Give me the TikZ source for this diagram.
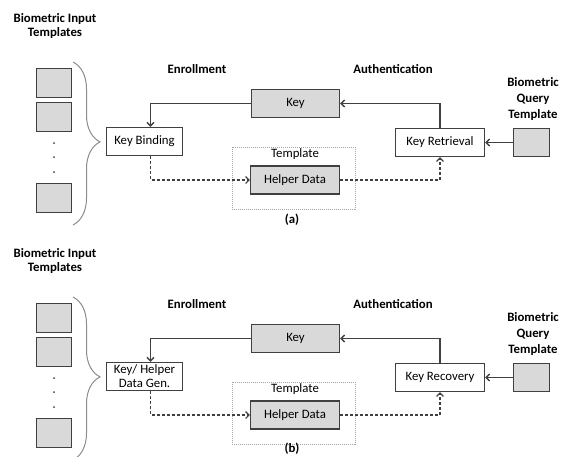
\documentclass[tikz,border=0pt]{standalone}
\usepackage{fontspec}
\setmainfont{Carlito}
\usetikzlibrary{arrows.meta,decorations.pathreplacing}

\definecolor{linegray}{HTML}{404040}
\definecolor{boxgray}{HTML}{D9D9D9}
\definecolor{bracegray}{HTML}{8C8C8C}

\tikzset{
  every node/.style={font=\fontsize{12.8}{14}\selectfont, inner sep=0pt},
  hdr/.style={font=\bfseries\fontsize{12.8}{14.5}\selectfont, align=center},
  box/.style={draw=linegray, line width=1.4pt, fill=white, minimum height=28pt, align=center},
  fillbox/.style={box, fill=boxgray},
  tmplbox/.style={draw=gray!70, line width=0.7pt, dash pattern=on 1pt off 1pt},
  link/.style={draw=linegray, line width=1.3pt, -{Straight Barb[length=3.5pt,width=7pt]}},
  dlink/.style={link, line width=1.1pt, dash pattern=on 3pt off 2pt},
}

\begin{document}
\begin{tikzpicture}[x=1pt,y=-1pt]
  \useasboundingbox (0,0) rectangle (561,456);
  \foreach \dy/\p/\bindtext/\rettext/\capy in {0/a/{Key Binding}/{Key Retrieval}/220,235/b/{Key/ Helper\\Data Gen.}/{Key Recovery}/214}{
    % Plantillas de entrada
    \node[hdr] (inp\p) at (55,26+\dy) {Biometric Input\\Templates};
    \node[fillbox, minimum width=35pt, minimum height=29pt] (ta\p) at (54,83+\dy) {};
    \node[fillbox, minimum width=35pt, minimum height=29pt] (tb\p) at (54,117+\dy) {};
    \node[fillbox, minimum width=35pt, minimum height=29pt] (tc\p) at (54,198+\dy) {};
    \foreach \yy in {143,157,172}
      \fill[linegray] (54,\yy+\dy) circle (1pt);
    \draw[bracegray, line width=1pt, decorate, decoration={brace, amplitude=27pt, aspect=0.49}]
      (73,62+\dy) -- (73,225+\dy);

    % Titulos
    \node[hdr] (enr\p) at (197,69+\dy) {Enrollment};
    \node[hdr] (aut\p) at (393,69+\dy) {Authentication};
    \node[hdr, font=\bfseries\fontsize{12.8}{16}\selectfont] (ql\p) at (533,99+\dy) {Biometric\\Query\\Template};

    % Cajas
    \node[fillbox, minimum width=88pt] (key\p) at (295.5,103.5+\dy) {Key};
    \node[box, minimum width=76pt] (bind\p) at (144.5,141.5+\dy) {\bindtext};
    \node[tmplbox, minimum width=123pt, minimum height=62pt] (tmpl\p) at (293.5,178+\dy) {};
    \node (tl\p) at (295,154+\dy) {Template};
    \node[fillbox, minimum width=89pt] (help\p) at (295,180+\dy) {Helper Data};
    \node[box, minimum width=89pt] (ret\p) at (440,142.5+\dy) {\rettext};
    \node[fillbox, minimum width=36pt] (qry\p) at (531.5,142.5+\dy) {};
    \node[hdr] (cap\p) at (292,\capy+\dy) {(\p)};

    % Flechas
    \draw[link] (key\p.west) -| ([xshift=6pt]bind\p.north);
    \draw[link] (ret\p.north) |- (key\p.east);
    \draw[link] (qry\p.west) -- (ret\p.east);
    \draw[dlink] ([xshift=6pt]bind\p.south) |- (help\p.west);
    \draw[dlink] (help\p.east) -| (ret\p.south);
  }
\end{tikzpicture}
\end{document}
